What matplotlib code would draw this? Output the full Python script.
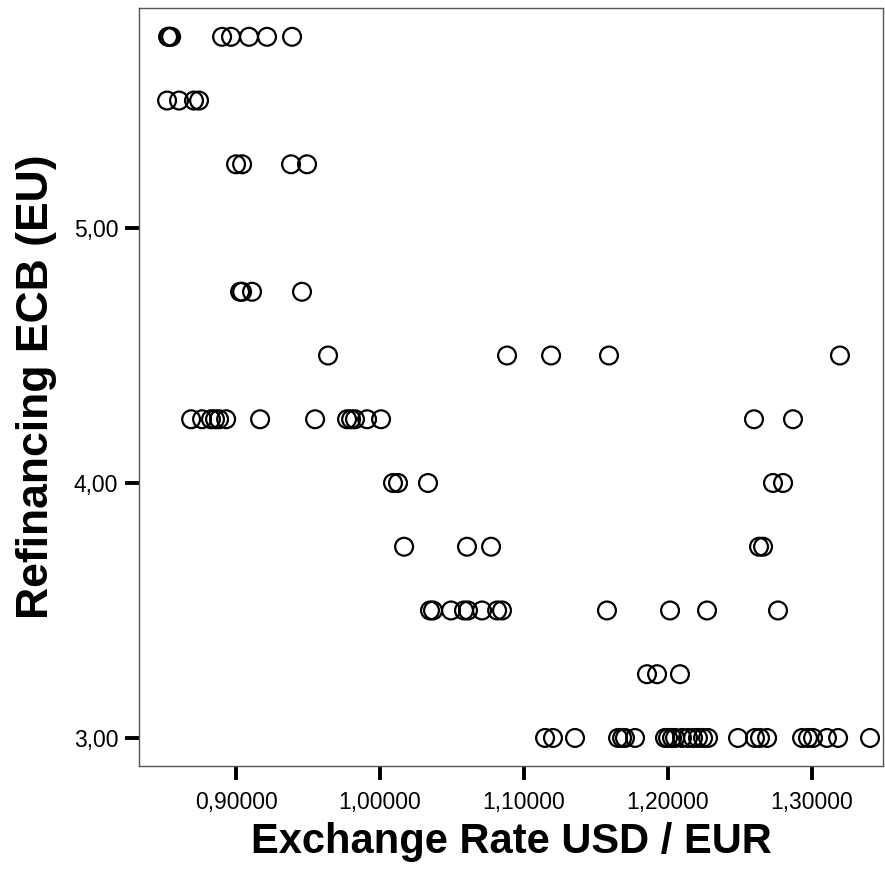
import matplotlib
matplotlib.use("Agg")
import matplotlib.pyplot as plt
from matplotlib.ticker import FuncFormatter

plt.rcParams["font.family"] = ["Liberation Sans", "DejaVu Sans"]

# USD/EUR exchange rate observed at each ECB refinancing rate level
rate_575 = [0.8528, 0.8535, 0.8549, 0.8903, 0.8965, 0.9090, 0.9215, 0.9389]
rate_550 = [0.8521, 0.8604, 0.8708, 0.8743]
rate_525 = [0.9000, 0.9042, 0.9382, 0.9493]
rate_475 = [0.9028, 0.9042, 0.9111, 0.9458]
rate_450 = [0.9639, 1.0882, 1.1188, 1.1590, 1.3194]
rate_425 = [0.8688, 0.8764, 0.8826, 0.8854, 0.8882, 0.8931, 0.9167, 0.9549,
            0.9771, 0.9799, 0.9826, 0.9910, 1.0007, 1.2597, 1.2868]
rate_400 = [1.0090, 1.0125, 1.0333, 1.2729, 1.2799]
rate_375 = [1.0167, 1.0604, 1.0771, 1.2632, 1.2660]
rate_350 = [1.0347, 1.0368, 1.0493, 1.0583, 1.0611, 1.0708, 1.0813, 1.0847,
            1.1576, 1.2014, 1.2271, 1.2764]
rate_325 = [1.1854, 1.1924, 1.2083]
rate_300 = [1.1146, 1.1201, 1.1354, 1.1653, 1.1681, 1.1701, 1.1771, 1.1979,
            1.2000, 1.2028, 1.2049, 1.2097, 1.2139, 1.2174, 1.2208, 1.2243,
            1.2278, 1.2486, 1.2604, 1.2639, 1.2688, 1.2931, 1.2972, 1.3007,
            1.3104, 1.3181, 1.3403]

levels = [5.75, 5.50, 5.25, 4.75, 4.50, 4.25, 4.00, 3.75, 3.50, 3.25, 3.00]
groups = [rate_575, rate_550, rate_525, rate_475, rate_450, rate_425,
          rate_400, rate_375, rate_350, rate_325, rate_300]

usd_eur = [x for g in groups for x in g]
refi = [lv for lv, g in zip(levels, groups) for _ in g]

x_ticks = [0.9, 1.0, 1.1, 1.2, 1.3]
y_ticks = [3.0, 4.0, 5.0]

fig = plt.figure(figsize=(8.85, 8.88), dpi=100)
ax = fig.add_axes([139 / 885, 122 / 888, 744 / 885, 758 / 888])

ax.scatter(usd_eur, refi, s=165, facecolors="none", edgecolors="black",
           linewidths=1.6, zorder=3)

ax.set_xlim(0.8326, 1.3493)
ax.set_ylim(2.89, 5.863)
ax.set_xticks(x_ticks)
ax.set_yticks(y_ticks)
ax.xaxis.set_major_formatter(FuncFormatter(lambda v, _: f"{v:.5f}".replace(".", ",")))
ax.yaxis.set_major_formatter(FuncFormatter(lambda v, _: f"{v:.2f}".replace(".", ",")))
ax.tick_params(direction="out", length=10, width=2.8, color="black",
               labelsize=16.5, pad=5)
ax.tick_params(axis="x", pad=8)

for sp in ax.spines.values():
    sp.set_color("#555555")
    sp.set_linewidth(1.0)

ax.set_xlabel("Exchange Rate USD / EUR", fontsize=30, fontweight="bold",
              labelpad=6)
ax.set_ylabel("Refinancing ECB (EU)", fontsize=32, fontweight="bold",
              labelpad=12)

fig.savefig("out.png", dpi=100)
